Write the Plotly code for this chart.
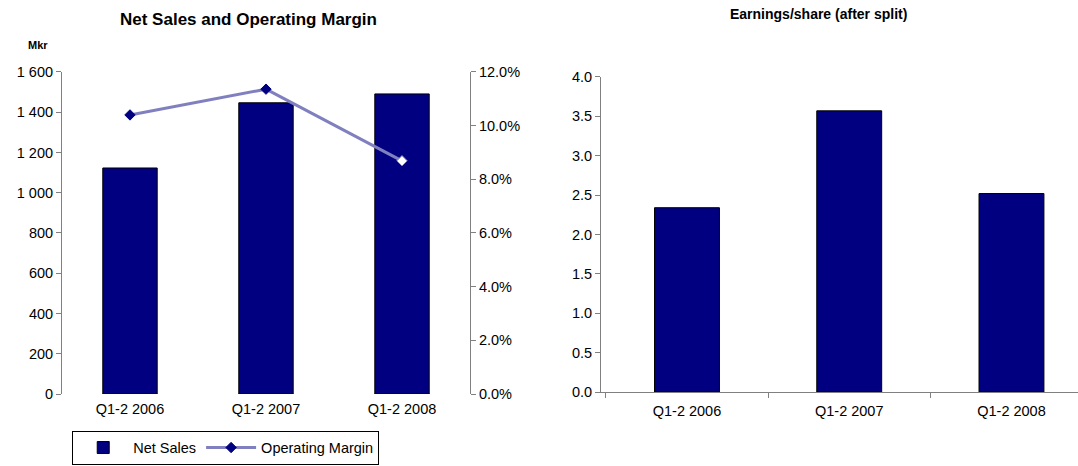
import plotly.graph_objects as go

categories = ["Q1-2 2006", "Q1-2 2007", "Q1-2 2008"]
net_sales = [1123, 1447, 1491]
operating_margin = [10.4, 11.36, 8.69]
eps = [2.34, 3.57, 2.52]

left_ticks = [0, 200, 400, 600, 800, 1000, 1200, 1400, 1600]
left_ticktext = ["0", "200", "400", "600", "800", "1 000", "1 200", "1 400", "1 600"]
pct_ticks = [0, 2, 4, 6, 8, 10, 12]
pct_ticktext = ["0.0%", "2.0%", "4.0%", "6.0%", "8.0%", "10.0%", "12.0%"]
eps_ticks = [0, 0.5, 1, 1.5, 2, 2.5, 3, 3.5, 4]
eps_ticktext = ["0.0", "0.5", "1.0", "1.5", "2.0", "2.5", "3.0", "3.5", "4.0"]

NAVY = "#000080"
LINE = "#8080C0"
AX = "#808080"
FONT = "Liberation Sans, Arial, sans-serif"
TF = 14.5

fig = go.Figure()
fig.add_trace(go.Bar(x=categories, y=net_sales, name="Net Sales", width=0.4,
                     marker=dict(color=NAVY, line=dict(color="#000000", width=1)),
                     xaxis="x", yaxis="y"))
fig.add_trace(go.Scatter(x=categories, y=operating_margin, name="Operating Margin",
                         mode="lines+markers",
                         line=dict(color=LINE, width=3),
                         marker=dict(symbol="diamond", size=8,
                                     color=[NAVY, NAVY, "#FFFFFF"],
                                     line=dict(color=[NAVY, NAVY, LINE], width=1)),
                         xaxis="x", yaxis="y2"))
fig.add_trace(go.Bar(x=categories, y=eps, name="EPS", width=0.4, showlegend=False,
                     marker=dict(color=NAVY, line=dict(color="#000000", width=1)),
                     xaxis="x2", yaxis="y3"))

common = dict(showgrid=False, zeroline=False, automargin=False, tickfont=dict(size=TF))

fig.update_layout(
    width=1078, height=466, autosize=False,
    margin=dict(l=0, r=0, t=0, b=0, autoexpand=False),
    paper_bgcolor="white", plot_bgcolor="white",
    font=dict(family=FONT, size=TF, color="#000000"),
    showlegend=True,
    legend=dict(orientation="h", x=0.067, y=0.003, xanchor="left", yanchor="bottom",
                bordercolor="#000000", borderwidth=1, font=dict(size=TF),
                tracegroupgap=0, itemwidth=50),
    xaxis=dict(domain=[0.0575, 0.436], range=[-0.5, 2.5], showline=False,
               ticks="", anchor="y", ticklabelstandoff=4, **common),
    yaxis=dict(domain=[0.1545, 0.8455], range=[0, 1600], tickvals=left_ticks,
               ticktext=left_ticktext, showline=True, linecolor=AX, linewidth=1,
               ticks="outside", ticklen=5, tickcolor=AX, anchor="x", **common),
    yaxis2=dict(overlaying="y", side="right", range=[0, 12], tickvals=pct_ticks,
                ticktext=pct_ticktext, showline=True, linecolor=AX, linewidth=1,
                ticks="outside", ticklen=5, tickcolor=AX, anchor="x", **common),
    xaxis2=dict(domain=[0.5575, 1.0], range=[-0.53, 2.41], showline=True,
                linecolor=AX, linewidth=1, ticks="outside", tickson="boundaries",
                ticklen=5, tickcolor=AX, anchor="y3", ticklabelstandoff=6, **common),
    yaxis3=dict(domain=[0.1588, 0.8348], range=[0, 4], tickvals=eps_ticks,
                ticktext=eps_ticktext, showline=True, linecolor=AX, linewidth=1,
                ticks="outside", ticklen=5, tickcolor=AX, anchor="x2", **common),
    annotations=[
        dict(text="<b>Net Sales and Operating Margin</b>", x=248, y=19,
             showarrow=False, font=dict(size=17)),
        dict(text="<b>Earnings/share (after split)</b>", x=818, y=14, showarrow=False,
             font=dict(size=14)),
        dict(text="<b>Mkr</b>", x=38, y=45, showarrow=False, font=dict(size=11)),
    ],
)

# convert pixel positions of annotations to paper coordinates
W, H = 1078, 466
for a in fig.layout.annotations:
    a.x = a.x / W
    a.y = 1 - a.y / H
    a.xref = "paper"
    a.yref = "paper"
    a.xanchor = "center"
    a.yanchor = "middle"
fig.write_html("out.html")
